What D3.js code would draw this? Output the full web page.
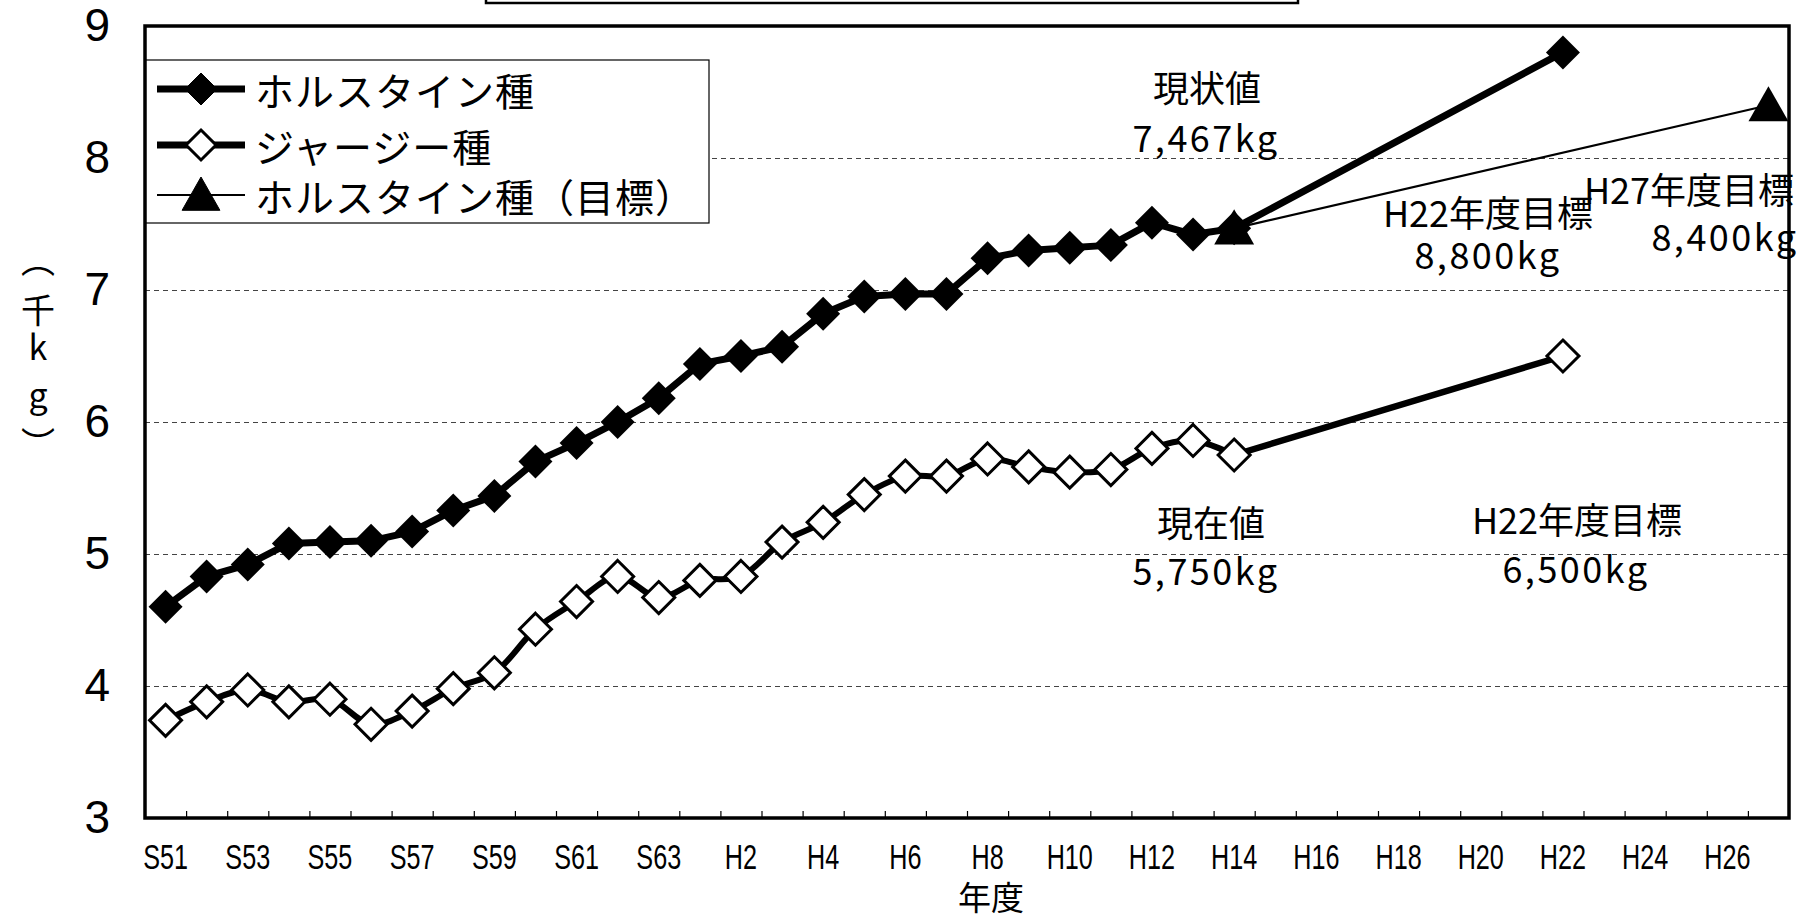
<!DOCTYPE html>
<html>
<head>
<meta charset="utf-8">
<script src="https://cdn.jsdelivr.net/npm/d3@7"></script>
<style>
  html, body { margin: 0; padding: 0; background: #fff; }
  svg { display: block; }
  .jp { font-family: "Noto Sans CJK JP", "Noto Sans", sans-serif; }
</style>
</head>
<body>
<svg id="chart" width="1802" height="920"></svg>
<script>
// Fiscal years on the category axis (Showa 51 .. Heisei 27)
const categories = [
  "S51","S52","S53","S54","S55","S56","S57","S58","S59","S60","S61","S62","S63",
  "H1","H2","H3","H4","H5","H6","H7","H8","H9","H10","H11","H12","H13","H14",
  "H15","H16","H17","H18","H19","H20","H21","H22","H23","H24","H25","H26","H27"
];
const tickLabels = ["S51","S53","S55","S57","S59","S61","S63","H2","H4","H6","H8",
  "H10","H12","H14","H16","H18","H20","H22","H24","H26"];
const yTicks = [3, 4, 5, 6, 7, 8, 9];

// Recorded years plus the H22 target year
const recordYears = [
  "S51","S52","S53","S54","S55","S56","S57","S58","S59","S60","S61","S62","S63",
  "H1","H2","H3","H4","H5","H6","H7","H8","H9","H10","H11","H12","H13","H14","H22"
];
// Milk yield per cow (thousand kg)
const holsteinValues = [
  4.60, 4.83, 4.92, 5.08, 5.09, 5.10, 5.17, 5.33, 5.44, 5.70, 5.84, 6.00, 6.18,
  6.44, 6.50, 6.57, 6.82, 6.95, 6.97, 6.97, 7.24, 7.30, 7.32, 7.34, 7.51, 7.42, 7.467, 8.8
];
const jerseyValues = [
  3.74, 3.88, 3.97, 3.88, 3.90, 3.71, 3.81, 3.98, 4.10, 4.43, 4.64, 4.83, 4.67,
  4.80, 4.83, 5.09, 5.24, 5.45, 5.59, 5.59, 5.72, 5.66, 5.62, 5.64, 5.80, 5.86, 5.75, 6.5
];
const targetYears = ["H14", "H27"];
const targetValues = [7.467, 8.4];

const seriesNames = ["ホルスタイン種", "ジャージー種", "ホルスタイン種（目標）"];
const yTitle = ["︵", "千", "k", "g", "︶"];

const svg = d3.select("#chart");
const L = 145, R = 1789, T = 26, B = 818;

const x = d3.scaleBand().domain(categories).range([L, R]).paddingInner(0).paddingOuter(0);
const cx = c => x(c) + x.bandwidth() / 2;
const y = d3.scaleLinear().domain([3, 9]).range([B, T]);

// Partly visible title frame along the top edge
svg.append("rect").attr("x", 486).attr("y", -12).attr("width", 812).attr("height", 15)
  .attr("fill", "none").attr("stroke", "#000").attr("stroke-width", 2.5);

// Dashed horizontal gridlines
const grid = svg.append("g").attr("transform", `translate(${L},0)`)
  .call(d3.axisLeft(y).tickValues([4, 5, 6, 7, 8]).tickSize(-(R - L)).tickFormat(""));
grid.select(".domain").remove();
grid.selectAll("line").attr("stroke", "#444").attr("stroke-width", 1).attr("stroke-dasharray", "5,4");

// Y axis labels
const yAxis = svg.append("g").attr("transform", `translate(${L},0)`)
  .call(d3.axisLeft(y).tickValues(yTicks).tickSize(0).tickPadding(35).tickFormat(d3.format("d")));
yAxis.select(".domain").remove();
yAxis.selectAll("text").attr("font-family", "Liberation Sans, Arial, sans-serif")
  .attr("font-size", 46).attr("fill", "#000");

// Minor tick marks at category boundaries, pointing into the plot
const bx = d3.scaleLinear().domain([0, categories.length]).range([L, R]);
const tickAxis = svg.append("g").attr("transform", `translate(0,${B})`)
  .call(d3.axisBottom(bx).tickValues(d3.range(1, categories.length)).tickSize(-7).tickFormat(""));
tickAxis.select(".domain").remove();
tickAxis.selectAll("line").attr("stroke", "#000").attr("stroke-width", 1.2);

// X axis labels (every other year)
const xAxis = svg.append("g").attr("transform", `translate(0,${B})`)
  .call(d3.axisBottom(x).tickValues(tickLabels).tickSize(0).tickPadding(0));
xAxis.select(".domain").remove();
xAxis.selectAll(".tick text")
  .attr("font-family", "Liberation Sans, Arial, sans-serif")
  .attr("font-size", 35).attr("fill", "#000")
  .attr("dy", null).attr("y", 0)
  .attr("transform", "translate(0,51) scale(0.72,1)");

// Axis titles
svg.append("text").attr("class", "jp").attr("x", 991).attr("y", 896)
  .attr("text-anchor", "middle").attr("dominant-baseline", "central")
  .attr("font-size", 33).text("年度");

// Vertical unit label, stacked character by character
const yTitlePos = [258, 308, 345, 393, 442];
svg.append("g").attr("class", "jp").selectAll("text").data(yTitle).join("text")
  .attr("text-anchor", "middle").attr("dominant-baseline", "central")
  .attr("font-size", 34)
  .attr("transform", (d, i) => `translate(38,${yTitlePos[i]})`)
  .text(d => d);

// Legend
const lg = svg.append("g");
lg.append("rect").attr("x", L).attr("y", 60).attr("width", 709 - L).attr("height", 163)
  .attr("fill", "#fff").attr("stroke", "#000").attr("stroke-width", 1.2);

const diamond = s => `M0,${-s}L${s},0L0,${s}L${-s},0Z`;
const triangle = s => `M0,${-s}L${s * 1.05},${s * 0.85}L${-s * 1.05},${s * 0.85}Z`;

const legendRows = [89, 145, 195];
const legendStyles = [
  { w: 7, marker: diamond(16), fill: "#000", stroke: "#000", sw: 1 },
  { w: 7, marker: diamond(15), fill: "#fff", stroke: "#000", sw: 3 },
  { w: 2.2, marker: triangle(18), fill: "#000", stroke: "#000", sw: 1 }
];
seriesNames.forEach((name, i) => {
  const yy = legendRows[i], st = legendStyles[i];
  lg.append("line").attr("x1", 157).attr("x2", 245).attr("y1", yy).attr("y2", yy)
    .attr("stroke", "#000").attr("stroke-width", st.w);
  lg.append("path").attr("d", st.marker).attr("transform", `translate(201,${yy})`)
    .attr("fill", st.fill).attr("stroke", st.stroke).attr("stroke-width", st.sw);
  lg.append("text").attr("class", "jp").attr("x", 255).attr("y", yy)
    .attr("dominant-baseline", "central").attr("font-size", 39)
    .attr("letter-spacing", 1).text(name);
});

// Series
const pts = (years, vals) => years.map((c, i) => ({ c, v: vals[i] }));
const holstein = pts(recordYears, holsteinValues);
const jersey = pts(recordYears, jerseyValues);
const target = pts(targetYears, targetValues);
const jerseyRecorded = jersey.slice(0, jersey.length - 1);
const jerseyToGoal = jersey.slice(jersey.length - 2);

const lineStraight = d3.line().x(d => cx(d.c)).y(d => y(d.v));
const lineSmooth = d3.line().x(d => cx(d.c)).y(d => y(d.v)).curve(d3.curveCatmullRom.alpha(0.5));

svg.append("path").datum(jerseyRecorded).attr("d", lineSmooth)
  .attr("fill", "none").attr("stroke", "#000").attr("stroke-width", 6).attr("stroke-linejoin", "round");
svg.append("path").datum(jerseyToGoal).attr("d", lineStraight)
  .attr("fill", "none").attr("stroke", "#000").attr("stroke-width", 6.5).attr("stroke-linecap", "round");
svg.append("path").datum(holstein).attr("d", lineStraight)
  .attr("fill", "none").attr("stroke", "#000").attr("stroke-width", 7).attr("stroke-linejoin", "round");
svg.append("path").datum(target).attr("d", lineStraight)
  .attr("fill", "none").attr("stroke", "#000").attr("stroke-width", 2.2);

svg.append("g").selectAll("path").data(jersey).join("path")
  .attr("d", diamond(16)).attr("transform", d => `translate(${cx(d.c)},${y(d.v)})`)
  .attr("fill", "#fff").attr("stroke", "#000").attr("stroke-width", 3);
svg.append("g").selectAll("path").data(holstein).join("path")
  .attr("d", diamond(17)).attr("transform", d => `translate(${cx(d.c)},${y(d.v)})`)
  .attr("fill", "#000");
svg.append("g").selectAll("path").data(target).join("path")
  .attr("d", triangle(19)).attr("transform", d => `translate(${cx(d.c)},${y(d.v)})`)
  .attr("fill", "#000");

// Value annotations
const notes = [
  ["現状値", 1207, 86, 0], ["7,467kg", 1206, 136, 2.5],
  ["H22年度目標", 1488, 211, 0], ["8,800kg", 1488, 253, 2.5],
  ["H27年度目標", 1689, 188, 0], ["8,400kg", 1725, 235, 2.5],
  ["現在値", 1211, 521, 0], ["5,750kg", 1206, 569, 2.5],
  ["H22年度目標", 1577, 518, 0], ["6,500kg", 1576, 567, 2.5]
];
svg.append("g").selectAll("text").data(notes).join("text")
  .attr("class", "jp").attr("x", d => d[1]).attr("y", d => d[2])
  .attr("text-anchor", "middle").attr("dominant-baseline", "central")
  .attr("letter-spacing", d => d[3])
  .attr("font-size", 36).attr("fill", "#000").text(d => d[0]);

// Plot frame
svg.append("rect").attr("x", L).attr("y", T).attr("width", R - L).attr("height", B - T)
  .attr("fill", "none").attr("stroke", "#000").attr("stroke-width", 3.5);
</script>
</body>
</html>
